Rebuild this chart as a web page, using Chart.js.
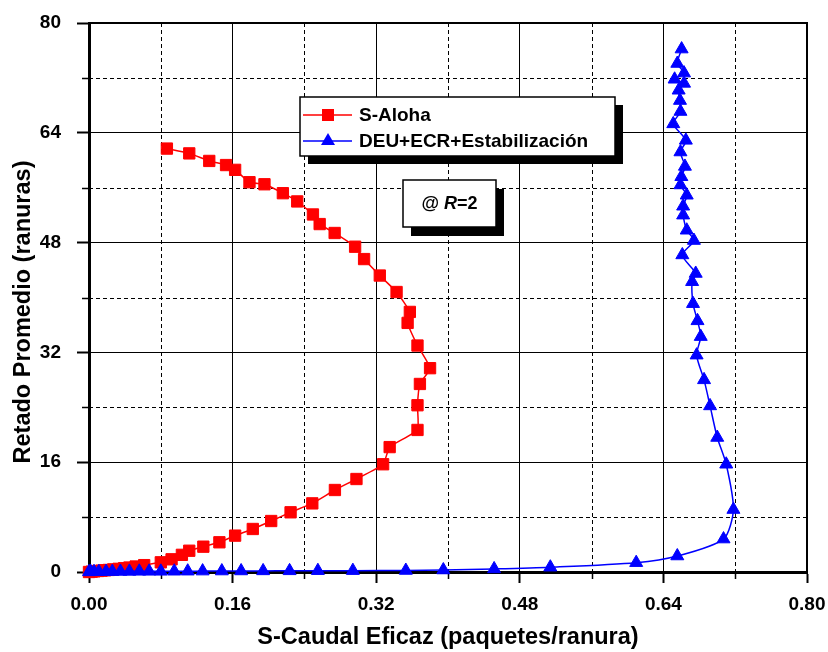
<!DOCTYPE html>
<html lang="es">
<head>
    <meta charset="UTF-8">
    <title>Retado vs Caudal</title>
    <script src="https://cdn.jsdelivr.net/npm/chart.js"></script>
    <style>
        body { margin: 0; background: #fff; }
        #wrap { width: 828px; height: 652px; }
    </style>
</head>
<body>
    <div id="wrap">
        <canvas id="delayChart" width="828" height="652"></canvas>
    </div>

    <script>
        // ejes
        const xTickVals = [0, 0.16, 0.32, 0.48, 0.64, 0.80];
        const yTickVals = [0, 16, 32, 48, 64, 80];
        const xMinorVals = [0.08, 0.24, 0.40, 0.56, 0.72];
        const yMinorVals = [8, 24, 40, 56, 72];

        // S-Aloha
        const alohaS = [0.000, 0.003, 0.006, 0.010, 0.014, 0.018, 0.022, 0.027, 0.033, 0.039, 0.045, 0.052,
            0.0615, 0.080, 0.092, 0.1035, 0.1117, 0.1274, 0.1453, 0.1628, 0.1825, 0.203, 0.2246, 0.2488,
            0.274, 0.298, 0.3277, 0.335, 0.366, 0.366, 0.3687, 0.380, 0.366, 0.355, 0.3575, 0.3427,
            0.324, 0.3065, 0.2965, 0.2737, 0.257, 0.2495, 0.232, 0.216, 0.1955, 0.1788, 0.1628, 0.1527,
            0.134, 0.1117, 0.0868];
        const alohaD = [0.0, 0.05, 0.1, 0.15, 0.2, 0.25, 0.3, 0.38, 0.46, 0.55, 0.65, 0.8,
            1.0, 1.41, 1.85, 2.5, 3.1, 3.69, 4.33, 5.3, 6.27, 7.43, 8.7, 10.0,
            11.95, 13.55, 15.7, 18.2, 20.7, 24.3, 27.4, 29.7, 33.0, 36.3, 37.9, 40.8,
            43.2, 45.6, 47.4, 49.4, 50.7, 52.1, 54.0, 55.2, 56.5, 56.8, 58.6, 59.3,
            59.9, 61.0, 61.7];

        // DEU+ECR+Estabilización
        const deuS = [0.000, 0.002, 0.0056, 0.011, 0.019, 0.026, 0.035, 0.045, 0.056, 0.067, 0.080, 0.095,
            0.110, 0.1266, 0.148, 0.1695, 0.194, 0.2235, 0.255, 0.294, 0.353, 0.3948, 0.4514, 0.514,
            0.6097, 0.6555, 0.707, 0.718, 0.710, 0.700, 0.692, 0.6853, 0.677, 0.6816, 0.678, 0.673,
            0.672, 0.676, 0.6611, 0.674, 0.666, 0.662, 0.662, 0.666, 0.659, 0.660, 0.664, 0.659,
            0.665, 0.651, 0.659, 0.6585, 0.657, 0.663, 0.6525, 0.663, 0.6555, 0.6603];
        const deuD = [0.02, 0.03, 0.04, 0.05, 0.06, 0.07, 0.08, 0.09, 0.10, 0.10, 0.10, 0.11,
            0.12, 0.13, 0.14, 0.15, 0.16, 0.17, 0.19, 0.20, 0.22, 0.29, 0.45, 0.70,
            1.36, 2.33, 4.8, 9.1, 15.7, 19.6, 24.2, 28.0, 31.6, 34.3, 36.6, 39.1,
            42.3, 43.5, 46.2, 48.3, 49.8, 52.0, 53.3, 54.9, 56.4, 57.6, 59.1, 61.2,
            62.9, 65.3, 67.1, 68.7, 70.2, 71.2, 71.8, 72.7, 74.1, 76.2];

        const seriesNames = ['S-Aloha', 'DEU+ECR+Estabilización'];
        const FONT = '"Liberation Sans", Arial, sans-serif';

        function toPoints(xs, ys) {
            return xs.map((x, i) => ({ x: x, y: ys[i] }));
        }

        // rejilla secundaria punteada, marco y cajas de texto
        const extras = {
            id: 'extras',
            beforeDatasetsDraw(chart) {
                const ctx = chart.ctx;
                const { left, right, top, bottom } = chart.chartArea;
                const xs = chart.scales.x, ys = chart.scales.y;
                ctx.save();
                ctx.strokeStyle = '#000';
                ctx.lineWidth = 1;
                ctx.setLineDash([4, 3]);
                xMinorVals.forEach(v => {
                    const px = Math.round(xs.getPixelForValue(v)) + 0.5;
                    ctx.beginPath();
                    ctx.moveTo(px, top);
                    ctx.lineTo(px, bottom);
                    ctx.stroke();
                });
                yMinorVals.forEach(v => {
                    const py = Math.round(ys.getPixelForValue(v)) + 0.5;
                    ctx.beginPath();
                    ctx.moveTo(left, py);
                    ctx.lineTo(right, py);
                    ctx.stroke();
                });
                ctx.setLineDash([]);
                ctx.lineWidth = 1.5;
                // marcas menores
                xMinorVals.forEach(v => {
                    const px = Math.round(xs.getPixelForValue(v)) + 0.5;
                    ctx.beginPath();
                    ctx.moveTo(px, bottom);
                    ctx.lineTo(px, bottom + 7);
                    ctx.stroke();
                });
                yMinorVals.forEach(v => {
                    const py = Math.round(ys.getPixelForValue(v)) + 0.5;
                    ctx.beginPath();
                    ctx.moveTo(left - 7, py);
                    ctx.lineTo(left, py);
                    ctx.stroke();
                });
                // marco superior y derecho
                ctx.lineWidth = 2;
                ctx.beginPath();
                ctx.moveTo(left, top);
                ctx.lineTo(right, top);
                ctx.lineTo(right, bottom);
                ctx.stroke();
                ctx.restore();
            },
            afterDraw(chart) {
                const ctx = chart.ctx;
                ctx.save();

                // leyenda
                const lx = 300, ly = 97, lw = 315, lh = 59;
                ctx.fillStyle = '#000';
                ctx.fillRect(lx + 8, ly + 8, lw, lh);
                ctx.fillStyle = '#fff';
                ctx.fillRect(lx, ly, lw, lh);
                ctx.strokeStyle = '#000';
                ctx.lineWidth = 1.5;
                ctx.strokeRect(lx, ly, lw, lh);

                const rows = [
                    { y: 115, color: '#ff0000', marker: 'rect', text: seriesNames[0] },
                    { y: 141, color: '#0000ff', marker: 'triangle', text: seriesNames[1] }
                ];
                rows.forEach(r => {
                    ctx.strokeStyle = r.color;
                    ctx.lineWidth = 1.5;
                    ctx.beginPath();
                    ctx.moveTo(lx + 3, r.y);
                    ctx.lineTo(lx + 52, r.y);
                    ctx.stroke();
                    ctx.fillStyle = r.color;
                    const cx = lx + 28;
                    ctx.beginPath();
                    if (r.marker === 'rect') {
                        ctx.rect(cx - 6, r.y - 6, 12, 12);
                    } else {
                        ctx.moveTo(cx, r.y - 8);
                        ctx.lineTo(cx + 7, r.y + 4);
                        ctx.lineTo(cx - 7, r.y + 4);
                        ctx.closePath();
                    }
                    ctx.fill();
                    ctx.fillStyle = '#000';
                    ctx.font = 'bold 19px ' + FONT;
                    ctx.textBaseline = 'middle';
                    ctx.textAlign = 'left';
                    ctx.fillText(r.text, lx + 59, r.y + 1);
                });

                // caja "@ R=2"
                const bx = 403, by = 180, bw = 93, bh = 47;
                ctx.fillStyle = '#000';
                ctx.fillRect(bx + 8, by + 9, bw, bh);
                ctx.fillStyle = '#fff';
                ctx.fillRect(bx, by, bw, bh);
                ctx.strokeStyle = '#000';
                ctx.lineWidth = 1.5;
                ctx.strokeRect(bx, by, bw, bh);

                const parts = [
                    { t: '@ ', f: 'bold 18px ' + FONT },
                    { t: 'R', f: 'italic bold 18px ' + FONT },
                    { t: '=2', f: 'bold 18px ' + FONT }
                ];
                let total = 0;
                parts.forEach(p => { ctx.font = p.f; p.w = ctx.measureText(p.t).width; total += p.w; });
                let tx = bx + bw / 2 - total / 2;
                ctx.fillStyle = '#000';
                ctx.textBaseline = 'middle';
                ctx.textAlign = 'left';
                parts.forEach(p => {
                    ctx.font = p.f;
                    ctx.fillText(p.t, tx, by + bh / 2 + 1);
                    tx += p.w;
                });

                // título eje Y
                ctx.translate(24, 312);
                ctx.rotate(-Math.PI / 2);
                ctx.font = 'bold 23.5px ' + FONT;
                ctx.textAlign = 'center';
                ctx.textBaseline = 'middle';
                ctx.fillText('Retado Promedio (ranuras)', 0, 0);
                ctx.restore();
            }
        };

        const ctx = document.getElementById('delayChart').getContext('2d');

        const delayChart = new Chart(ctx, {
            type: 'scatter',
            data: {
                datasets: [
                    {
                        label: seriesNames[1],
                        data: toPoints(deuS, deuD),
                        showLine: true,
                        borderColor: '#0000ff',
                        backgroundColor: '#0000ff',
                        borderWidth: 1.5,
                        pointStyle: 'triangle',
                        pointRadius: 7.5,
                        pointBorderWidth: 1,
                        tension: 0.25,
                        clip: false,
                        order: 0
                    },
                    {
                        label: seriesNames[0],
                        data: toPoints(alohaS, alohaD),
                        showLine: true,
                        borderColor: '#ff0000',
                        backgroundColor: '#ff0000',
                        borderWidth: 1.5,
                        pointStyle: 'rect',
                        pointRadius: 8,
                        pointBorderWidth: 1,
                        tension: 0.15,
                        clip: false,
                        order: 1
                    }
                ]
            },
            options: {
                responsive: false,
                animation: false,
                layout: { padding: { left: 0, top: 23, right: 21, bottom: 0 } },
                plugins: {
                    legend: { display: false },
                    tooltip: { enabled: false }
                },
                scales: {
                    x: {
                        type: 'linear',
                        min: 0,
                        max: 0.8,
                        afterBuildTicks: (scale) => { scale.ticks = xTickVals.map(v => ({ value: v })); },
                        afterFit: (scale) => {
                            scale.height = 80;
                            scale.paddingLeft = 0;
                            scale.paddingRight = 0;
                        },
                        ticks: {
                            padding: 10,
                            color: '#000',
                            font: { family: FONT, size: 19, weight: 'bold' },
                            maxRotation: 0,
                            callback: (v) => Number(v).toFixed(2)
                        },
                        grid: { color: '#000', lineWidth: 1, tickLength: 11, tickWidth: 2, tickColor: '#000' },
                        border: { color: '#000', width: 3 },
                        title: {
                            display: true,
                            text: 'S-Caudal Eficaz (paquetes/ranura)',
                            color: '#000',
                            font: { family: FONT, size: 23.5, weight: 'bold' },
                            padding: { top: 0, bottom: 0 }
                        }
                    },
                    y: {
                        type: 'linear',
                        min: 0,
                        max: 80,
                        afterBuildTicks: (scale) => { scale.ticks = yTickVals.map(v => ({ value: v })); },
                        afterFit: (scale) => {
                            scale.width = 89;
                            scale.paddingTop = 0;
                            scale.paddingBottom = 0;
                        },
                        ticks: {
                            padding: 16,
                            color: '#000',
                            font: { family: FONT, size: 19, weight: 'bold' },
                            callback: (v) => String(v)
                        },
                        grid: { color: '#000', lineWidth: 1, tickLength: 12, tickWidth: 2, tickColor: '#000' },
                        border: { color: '#000', width: 3 }
                    }
                }
            },
            plugins: [extras]
        });
    </script>
</body>
</html>
